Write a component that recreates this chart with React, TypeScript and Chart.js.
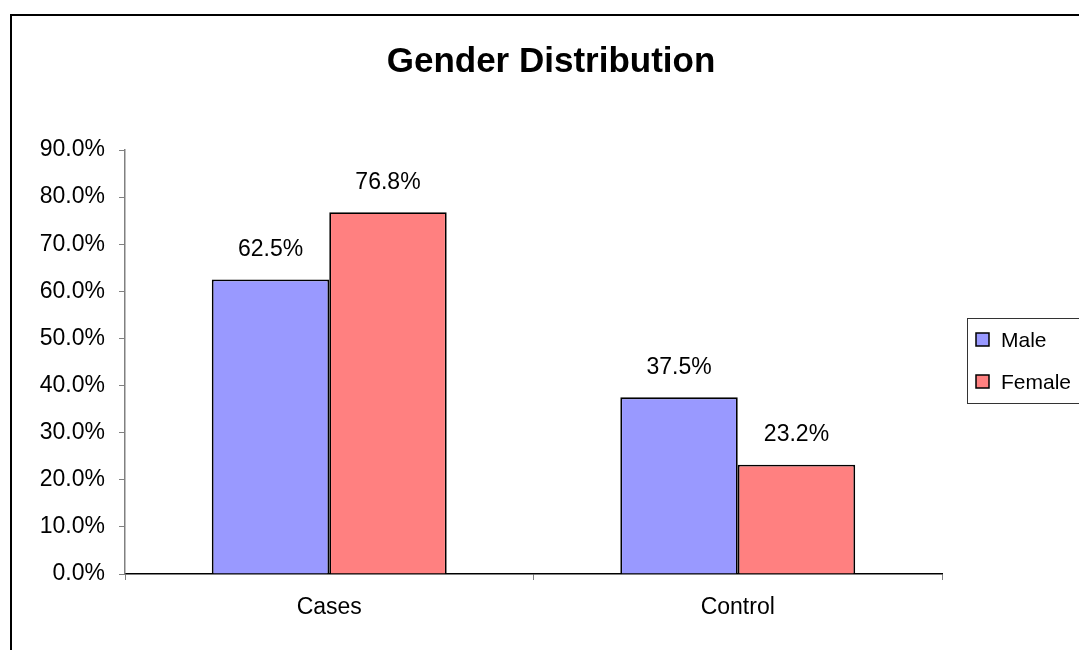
import React, { useEffect, useRef } from "react";
import { Chart, registerables } from "chart.js";

Chart.register(...registerables);

const categories = ["Cases", "Control"];
const maleValues = [62.5, 37.5];
const femaleValues = [76.8, 23.2];
const seriesLabels = ["Male", "Female"];
const seriesColors = ["#9999FF", "#FF8080"];
const titleText = "Gender Distribution";

const FONT = "'Liberation Sans', Arial, sans-serif";

const framePlugin = {
  id: "frame",
  beforeDraw(chart: any) {
    const ctx = chart.ctx;
    ctx.save();
    ctx.fillStyle = "#ffffff";
    ctx.fillRect(0, 0, chart.width, chart.height);
    ctx.strokeStyle = "#000";
    ctx.lineWidth = 2;
    ctx.beginPath();
    ctx.moveTo(11, chart.height + 2);
    ctx.lineTo(11, 15);
    ctx.lineTo(chart.width + 2, 15);
    ctx.stroke();
    ctx.font = `bold 35px ${FONT}`;
    ctx.fillStyle = "#000";
    ctx.textAlign = "center";
    ctx.textBaseline = "middle";
    ctx.fillText(titleText, 551, 62);
    ctx.restore();
  },
};

const labelPlugin = {
  id: "valueLabels",
  afterDatasetsDraw(chart: any) {
    const ctx = chart.ctx;
    ctx.save();
    ctx.font = `23px ${FONT}`;
    ctx.fillStyle = "#000";
    ctx.textAlign = "center";
    ctx.textBaseline = "middle";
    chart.data.datasets.forEach((ds: any, i: number) => {
      const meta = chart.getDatasetMeta(i);
      meta.data.forEach((bar: any, j: number) => {
        ctx.fillText(ds.data[j].toFixed(1) + "%", bar.x, bar.y - 30);
      });
    });
    ctx.restore();
  },
};

const legendPlugin = {
  id: "customLegend",
  afterDraw(chart: any) {
    const ctx = chart.ctx;
    ctx.save();
    ctx.fillStyle = "#fff";
    ctx.fillRect(967, 318, 200, 85);
    ctx.strokeStyle = "#333";
    ctx.lineWidth = 1;
    ctx.strokeRect(967.5, 318.5, 200, 85);
    ctx.font = `21px ${FONT}`;
    ctx.textBaseline = "middle";
    ctx.textAlign = "left";
    const ys = [340, 382];
    chart.data.datasets.forEach((ds: any, i: number) => {
      const y = ys[i];
      ctx.fillStyle = ds.backgroundColor;
      ctx.fillRect(976, y - 7, 13, 13);
      ctx.strokeStyle = "#000";
      ctx.lineWidth = 1.5;
      ctx.strokeRect(976, y - 7, 13, 13);
      ctx.fillStyle = "#000";
      ctx.fillText(ds.label, 1001, y + 1);
    });
    ctx.restore();
  },
};

export default function App() {
  const ref = useRef<HTMLCanvasElement>(null);
  useEffect(() => {
    if (!ref.current) return;
    const chart = new Chart(ref.current, {
      type: "bar",
      data: {
        labels: categories,
        datasets: [
          {
            label: seriesLabels[0],
            data: maleValues,
            backgroundColor: seriesColors[0],
            borderColor: "#000",
            borderWidth: 1.8,
            categoryPercentage: 0.575,
            barPercentage: 1,
          },
          {
            label: seriesLabels[1],
            data: femaleValues,
            backgroundColor: seriesColors[1],
            borderColor: "#000",
            borderWidth: 1.8,
            categoryPercentage: 0.575,
            barPercentage: 1,
          },
        ],
      },
      options: {
        responsive: false,
        animation: false,
        layout: { padding: { left: 15, right: 137, top: 150, bottom: 0 } },
        plugins: {
          legend: { display: false },
          tooltip: { enabled: false },
          title: { display: false },
        },
        scales: {
          x: {
            grid: {
              offset: true,
              drawOnChartArea: false,
              drawTicks: true,
              tickLength: 6,
              color: "#808080",
            },
            border: { color: "#000", width: 1.5 },
            ticks: {
              color: "#000",
              font: { family: FONT, size: 23 },
              padding: 14,
            },
            afterFit(scale: any) {
              scale.height = 76;
            },
          },
          y: {
            min: 0,
            max: 90,
            grid: {
              drawOnChartArea: false,
              drawTicks: true,
              tickLength: 6,
              color: "#808080",
            },
            border: { color: "#808080", width: 1.5 },
            ticks: {
              stepSize: 10,
              color: "#000",
              font: { family: FONT, size: 23 },
              padding: 14,
              callback: (v: any) => Number(v).toFixed(1) + "%",
            },
            afterFit(scale: any) {
              scale.width = 110;
            },
          },
        },
      },
      plugins: [framePlugin, labelPlugin, legendPlugin],
    });
    return () => chart.destroy();
  }, []);
  return (
    <div style={{ position: "fixed", left: 0, top: 0, width: 1079, height: 650 }}>
      <canvas ref={ref} width={1079} height={650} style={{ display: "block" }} />
    </div>
  );
}
